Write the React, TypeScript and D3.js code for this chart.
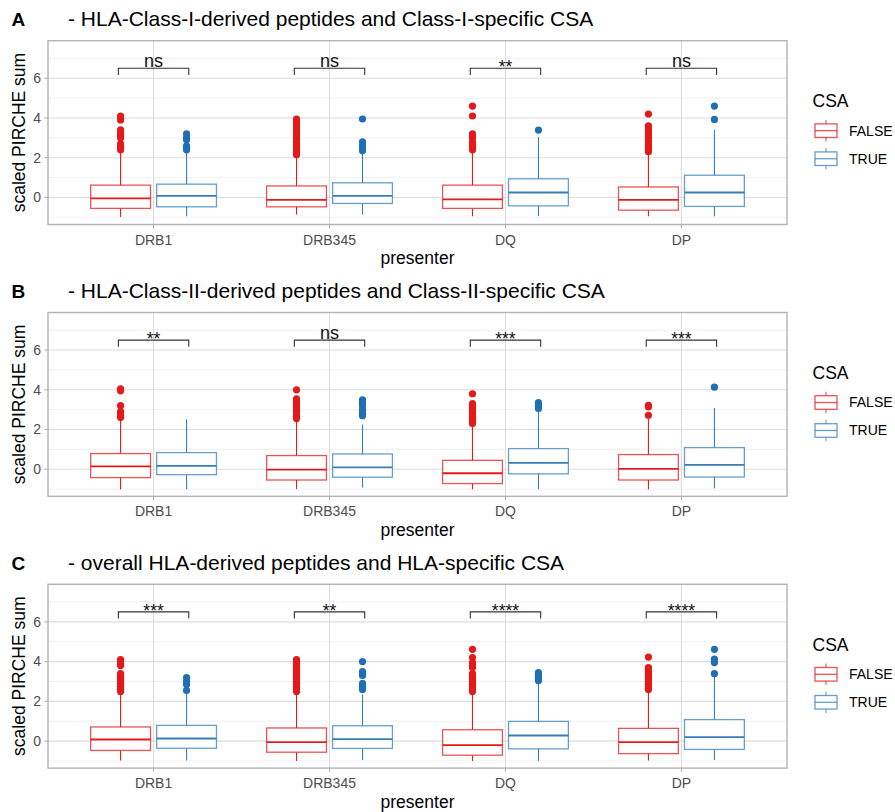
import React from "react";
import * as d3 from "d3";

const categories = ["DRB1", "DRB345", "DQ", "DP"];
const groups = ["FALSE", "TRUE"];
const panelLetters = ["A", "B", "C"];
const panelTitles = [
  "- HLA-Class-I-derived peptides and Class-I-specific CSA",
  "- HLA-Class-II-derived peptides and Class-II-specific CSA",
  "- overall HLA-derived peptides and HLA-specific CSA",
];
const yTicks = [0, 2, 4, 6];
const yMinorTicks = [-1, 1, 3, 5, 7];

// [lower whisker, Q1, median, Q3, upper whisker] per presenter
const statsA_FALSE = [
  [-0.98, -0.55, -0.05, 0.62, 2.3],
  [-0.86, -0.47, -0.12, 0.58, 2.05],
  [-0.94, -0.55, -0.1, 0.62, 2.3],
  [-0.94, -0.64, -0.12, 0.53, 2.17],
];
const statsA_TRUE = [
  [-0.94, -0.47, 0.08, 0.67, 2.3],
  [-0.86, -0.3, 0.08, 0.74, 2.2],
  [-0.94, -0.42, 0.25, 0.94, 3.05],
  [-0.94, -0.45, 0.25, 1.12, 3.39],
];
const statsB_FALSE = [
  [-1.0, -0.42, 0.15, 0.79, 2.5],
  [-1.0, -0.54, -0.02, 0.69, 2.4],
  [-1.0, -0.72, -0.2, 0.45, 2.15],
  [-1.0, -0.54, 0.02, 0.74, 2.55],
];
const statsB_TRUE = [
  [-1.0, -0.27, 0.17, 0.84, 2.5],
  [-0.92, -0.4, 0.1, 0.77, 2.25],
  [-1.0, -0.23, 0.32, 1.04, 2.97],
  [-0.96, -0.39, 0.22, 1.09, 3.09],
];
const statsC_FALSE = [
  [-0.98, -0.47, 0.08, 0.71, 2.4],
  [-1.0, -0.56, -0.05, 0.66, 2.45],
  [-1.0, -0.71, -0.2, 0.57, 2.4],
  [-0.98, -0.63, -0.05, 0.64, 2.5],
];
const statsC_TRUE = [
  [-0.98, -0.36, 0.13, 0.79, 2.4],
  [-0.95, -0.37, 0.1, 0.77, 2.35],
  [-1.0, -0.39, 0.28, 0.99, 3.0],
  [-0.95, -0.42, 0.2, 1.08, 3.27],
];

const outliersA_FALSE = [
  [2.4, 2.5, 2.6, 2.7, 3.0, 3.1, 3.2, 3.3, 3.4, 3.9, 4.0, 4.1],
  [2.15, 2.25, 2.35, 2.45, 2.55, 2.65, 2.75, 2.85, 2.95, 3.05, 3.15, 3.25, 3.35, 3.45, 3.55, 3.65, 3.75, 3.85, 3.95],
  [2.4, 2.5, 2.6, 2.7, 2.8, 3.0, 3.1, 3.2, 4.1, 4.6],
  [2.3, 2.4, 2.5, 2.6, 2.7, 2.8, 2.9, 3.0, 3.1, 3.2, 3.3, 3.4, 3.5, 3.6, 4.2],
];
const outliersA_TRUE = [
  [2.4, 2.5, 2.6, 2.9, 3.0, 3.2],
  [2.35, 2.5, 2.65, 2.8, 3.95],
  [3.39],
  [3.93, 4.6],
];
const outliersB_FALSE = [
  [2.6, 2.7, 2.8, 2.9, 3.2, 3.95, 4.05],
  [2.55, 2.65, 2.75, 2.85, 2.95, 3.05, 3.15, 3.25, 3.35, 3.45, 3.55, 4.0],
  [2.3, 2.4, 2.5, 2.6, 2.7, 2.8, 2.9, 3.0, 3.1, 3.2, 3.3, 3.8],
  [2.72, 3.14, 3.22],
];
const outliersB_TRUE = [
  [],
  [2.7, 2.8, 2.9, 3.0, 3.2, 3.3, 3.4, 3.5],
  [3.06, 3.15, 3.25, 3.35],
  [4.13],
];
const outliersC_FALSE = [
  [2.5, 2.6, 2.7, 2.8, 2.9, 3.0, 3.1, 3.2, 3.3, 3.4, 3.8, 3.9, 4.0, 4.1],
  [2.5, 2.6, 2.7, 2.8, 2.9, 3.0, 3.1, 3.2, 3.3, 3.4, 3.5, 3.6, 3.7, 3.8, 3.9, 4.0, 4.1],
  [2.5, 2.6, 2.7, 2.8, 2.9, 3.0, 3.1, 3.2, 3.3, 3.4, 3.7, 3.8, 3.95, 4.2, 4.62],
  [2.6, 2.7, 2.8, 2.9, 3.0, 3.1, 3.2, 3.3, 3.4, 3.5, 3.6, 3.7, 4.23],
];
const outliersC_TRUE = [
  [2.55, 2.85, 3.0, 3.2],
  [2.6, 2.7, 2.8, 2.9, 3.3, 3.4, 3.5, 4.0],
  [3.05, 3.15, 3.25, 3.35, 3.44],
  [3.39, 3.95, 4.12, 4.62],
];

const sigA = ["ns", "ns", "**", "ns"];
const sigB = ["**", "ns", "***", "***"];
const sigC = ["***", "**", "****", "****"];
const bracketY = 6.5;

const panels = [
  { stats: [statsA_FALSE, statsA_TRUE], outliers: [outliersA_FALSE, outliersA_TRUE], sig: sigA },
  { stats: [statsB_FALSE, statsB_TRUE], outliers: [outliersB_FALSE, outliersB_TRUE], sig: sigB },
  { stats: [statsC_FALSE, statsC_TRUE], outliers: [outliersC_FALSE, outliersC_TRUE], sig: sigC },
];

const W = 895;
const H = 812;
const FONT = "'Liberation Sans', Arial, Helvetica, sans-serif";
const boxColors = ["#E41A1C", "#377EB8"];
const dotColors = ["#E31A1C", "#1F6FB4"];
const plotLeft = 48;
const plotRight = 787;
const plotH = 183.8;
const panelTop0 = 40.7;
const panelStep = 271.8;

function Panel({ idx }: { idx: number }) {
  const p = panels[idx];
  const top = panelTop0 + idx * panelStep;
  const bottom = top + plotH;
  const x = d3.scalePoint<string>().domain(categories).range([plotLeft, plotRight]).padding(0.6);
  const y = d3.scaleLinear().domain([-1.36, 7.89]).range([bottom, top]);
  const step = x.step();
  const dodge = step * 0.1875;
  const halfBox = step * 0.17;
  const bracketHalf = step * 0.2;
  const midY = (top + bottom) / 2;

  return (
    <g>
      <text x={11.5} y={top - 14.7} fontSize={19} fontWeight="bold" fill="#000">
        {panelLetters[idx]}
      </text>
      <text x={68} y={top - 14.7} fontSize={21} fill="#000">
        {panelTitles[idx]}
      </text>
      {/* grid */}
      {yMinorTicks.map((t) => (
        <line key={"mn" + t} x1={plotLeft} x2={plotRight} y1={y(t)} y2={y(t)} stroke="#ebebeb" strokeWidth={0.7} />
      ))}
      {yTicks.map((t) => (
        <line key={"mj" + t} x1={plotLeft} x2={plotRight} y1={y(t)} y2={y(t)} stroke="#dcdcdc" strokeWidth={1.1} />
      ))}
      {categories.map((c) => (
        <line key={"v" + c} x1={x(c)} x2={x(c)} y1={top} y2={bottom} stroke="#dcdcdc" strokeWidth={1.1} />
      ))}
      {/* boxes */}
      {categories.map((c, ci) =>
        groups.map((g, gi) => {
          const [lw, q1, med, q3, uw] = p.stats[gi][ci];
          const cx = (x(c) as number) + (gi === 0 ? -dodge : dodge);
          const col = boxColors[gi];
          return (
            <g key={c + g}>
              <line x1={cx} x2={cx} y1={y(q3)} y2={y(uw)} stroke={col} strokeWidth={1.1} />
              <line x1={cx} x2={cx} y1={y(q1)} y2={y(lw)} stroke={col} strokeWidth={1.1} />
              <rect
                x={cx - halfBox}
                y={y(q3)}
                width={halfBox * 2}
                height={y(q1) - y(q3)}
                fill="#fff"
                stroke={col}
                strokeOpacity={0.75}
                strokeWidth={1.3}
              />
              <line x1={cx - halfBox} x2={cx + halfBox} y1={y(med)} y2={y(med)} stroke={col} strokeWidth={1.8} />
              {p.outliers[gi][ci].map((v, k) => (
                <circle key={k} cx={cx} cy={y(v)} r={3.6} fill={dotColors[gi]} />
              ))}
            </g>
          );
        })
      )}
      {/* brackets */}
      {categories.map((c, ci) => {
        const x0 = (x(c) as number) - bracketHalf;
        const x1 = (x(c) as number) + bracketHalf;
        const by = y(bracketY);
        const tip = y(bracketY) + 6.7;
        const lab = p.sig[ci];
        const isStar = lab.includes("*");
        return (
          <g key={"b" + c}>
            <path d={`M${x0},${tip}V${by}H${x1}V${tip}`} fill="none" stroke="#333" strokeWidth={1.1} />
            <text
              x={x(c)}
              y={isStar ? by + 5 : by - 1.4}
              textAnchor="middle"
              fontSize={isStar ? 17.5 : 18}
              fill="#111"
            >
              {lab}
            </text>
          </g>
        );
      })}
      {/* panel border */}
      <rect x={plotLeft} y={top} width={plotRight - plotLeft} height={plotH} fill="none" stroke="#b3b3b3" strokeWidth={1.4} />
      {/* y axis */}
      {yTicks.map((t) => (
        <g key={"yt" + t}>
          <line x1={plotLeft - 3.7} x2={plotLeft} y1={y(t)} y2={y(t)} stroke="#b3b3b3" strokeWidth={1.1} />
          <text x={plotLeft - 7} y={y(t)} dy="0.35em" textAnchor="end" fontSize={14} fill="#4d4d4d">
            {t}
          </text>
        </g>
      ))}
      {/* x axis */}
      {categories.map((c) => (
        <g key={"xt" + c}>
          <line x1={x(c)} x2={x(c)} y1={bottom} y2={bottom + 3.7} stroke="#b3b3b3" strokeWidth={1.1} />
          <text x={x(c)} y={bottom + 20} textAnchor="middle" fontSize={14} fill="#4d4d4d">
            {c}
          </text>
        </g>
      ))}
      <text x={(plotLeft + plotRight) / 2} y={bottom + 39.5} textAnchor="middle" fontSize={17.5} fill="#000">
        presenter
      </text>
      <text
        transform={`translate(19,${midY}) rotate(-90)`}
        dy="0.35em"
        textAnchor="middle"
        fontSize={17.5}
        fill="#000"
      >
        scaled PIRCHE sum
      </text>
      {/* legend */}
      <text x={812.5} y={top + 66.7} fontSize={17.5} fill="#000">
        CSA
      </text>
      {groups.map((g, gi) => {
        const cy = top + 90 + gi * 28;
        const col = boxColors[gi];
        return (
          <g key={"lg" + g}>
            <line x1={826} x2={826} y1={cy - 10.8} y2={cy + 10.8} stroke={col} strokeOpacity={0.75} strokeWidth={1.1} />
            <rect x={815} y={cy - 6.8} width={22} height={13.6} fill="#fff" stroke={col} strokeOpacity={0.75} strokeWidth={1.3} />
            <line x1={815} x2={837} y1={cy} y2={cy} stroke={col} strokeOpacity={0.75} strokeWidth={1.3} />
            <text x={849} y={cy} dy="0.35em" fontSize={14} fill="#000">
              {g}
            </text>
          </g>
        );
      })}
    </g>
  );
}

export default function App() {
  return (
    <svg
      width={W}
      height={H}
      viewBox={`0 0 ${W} ${H}`}
      style={{ position: "absolute", left: 0, top: 0, background: "#fff", fontFamily: FONT }}
    >
      <rect x={0} y={0} width={W} height={H} fill="#fff" />
      {panels.map((_, i) => (
        <Panel key={i} idx={i} />
      ))}
    </svg>
  );
}
